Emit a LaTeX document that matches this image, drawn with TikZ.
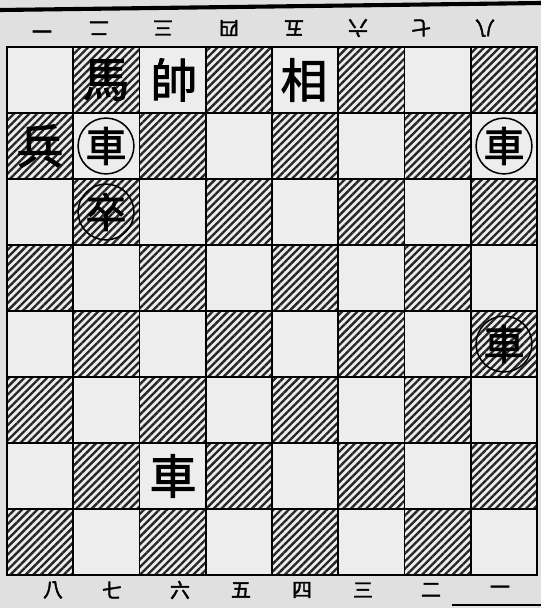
\documentclass[tikz,border=0pt]{standalone}
\usepackage{fontspec}
\newfontfamily\cjk{Noto Sans CJK TC}[FakeBold=2]
\usetikzlibrary{patterns.meta}
\tikzset{
  hatched/.style={pattern={Lines[angle=45,distance=4.6pt,line width=2pt]},pattern color=black!85},
  piece/.style={font=\cjk\fontsize{40}{40}\selectfont,inner sep=0pt},
  ringpiece/.style={circle,draw,line width=1.3pt,minimum size=1.65cm,inner sep=0pt,font=\cjk\fontsize{35}{35}\selectfont},
  coord/.style={font=\cjk\fontsize{17}{17}\selectfont,inner sep=0pt}
}
\begin{document}
\begin{tikzpicture}[x=0.03cm,y=0.03cm]
\fill[black!12] (0,0) rectangle (541,-608);
\useasboundingbox (0,0) rectangle (541,-608);
\draw[line width=3.5pt] (0,-10) -- (541,-3);
\draw[line width=2.5pt] (452,-605) -- (541,-605);
\fill[black!7] (7,-47) rectangle (537,-575);
\foreach \c in {1,...,8}{
  \foreach \r in {1,...,8}{
    \pgfmathtruncatemacro{\odd}{mod(\c+\r,2)}
    \ifnum\odd=1
      \fill[hatched] ({7+(\c-1)*66.25},{-47-(\r-1)*66}) rectangle ({7+\c*66.25},{-47-\r*66});
    \fi}}
\foreach \i in {0,...,8}{
  \draw[line width=1.7pt] ({7+\i*66.25},-47) -- ({7+\i*66.25},-575);
  \draw[line width=1.7pt] (7,{-47-\i*66}) -- (537,{-47-\i*66});}
\draw[line width=2.5pt] (7,-47) rectangle (537,-575);
\foreach \n/\x [count=\i] in {一/42,二/99,三/163,四/229,五/294,六/358,七/421,八/485}
  \node[coord,rotate=180] (top\i) at (\x,-28) {\n};
\foreach \n/\x [count=\i] in {八/53,七/112,六/180,五/241,四/302,三/363,二/431,一/500}
  \node[coord] (bot\i) at (\x,-590) {\n};
\node[piece] (ma) at (106,-80) {馬};
\node[piece] (shuai) at (174,-80) {帥};
\node[piece] (xiang) at (304,-80) {相};
\node[piece] (bing) at (40,-146) {兵};
\node[ringpiece] (heiche1) at (106,-146) {車};
\node[ringpiece] (heiche2) at (504,-146) {車};
\node[ringpiece] (heizu) at (106,-212) {卒};
\node[ringpiece] (heiche3) at (504,-344) {車};
\node[piece] (che) at (173,-476) {車};
\end{tikzpicture}
\end{document}
